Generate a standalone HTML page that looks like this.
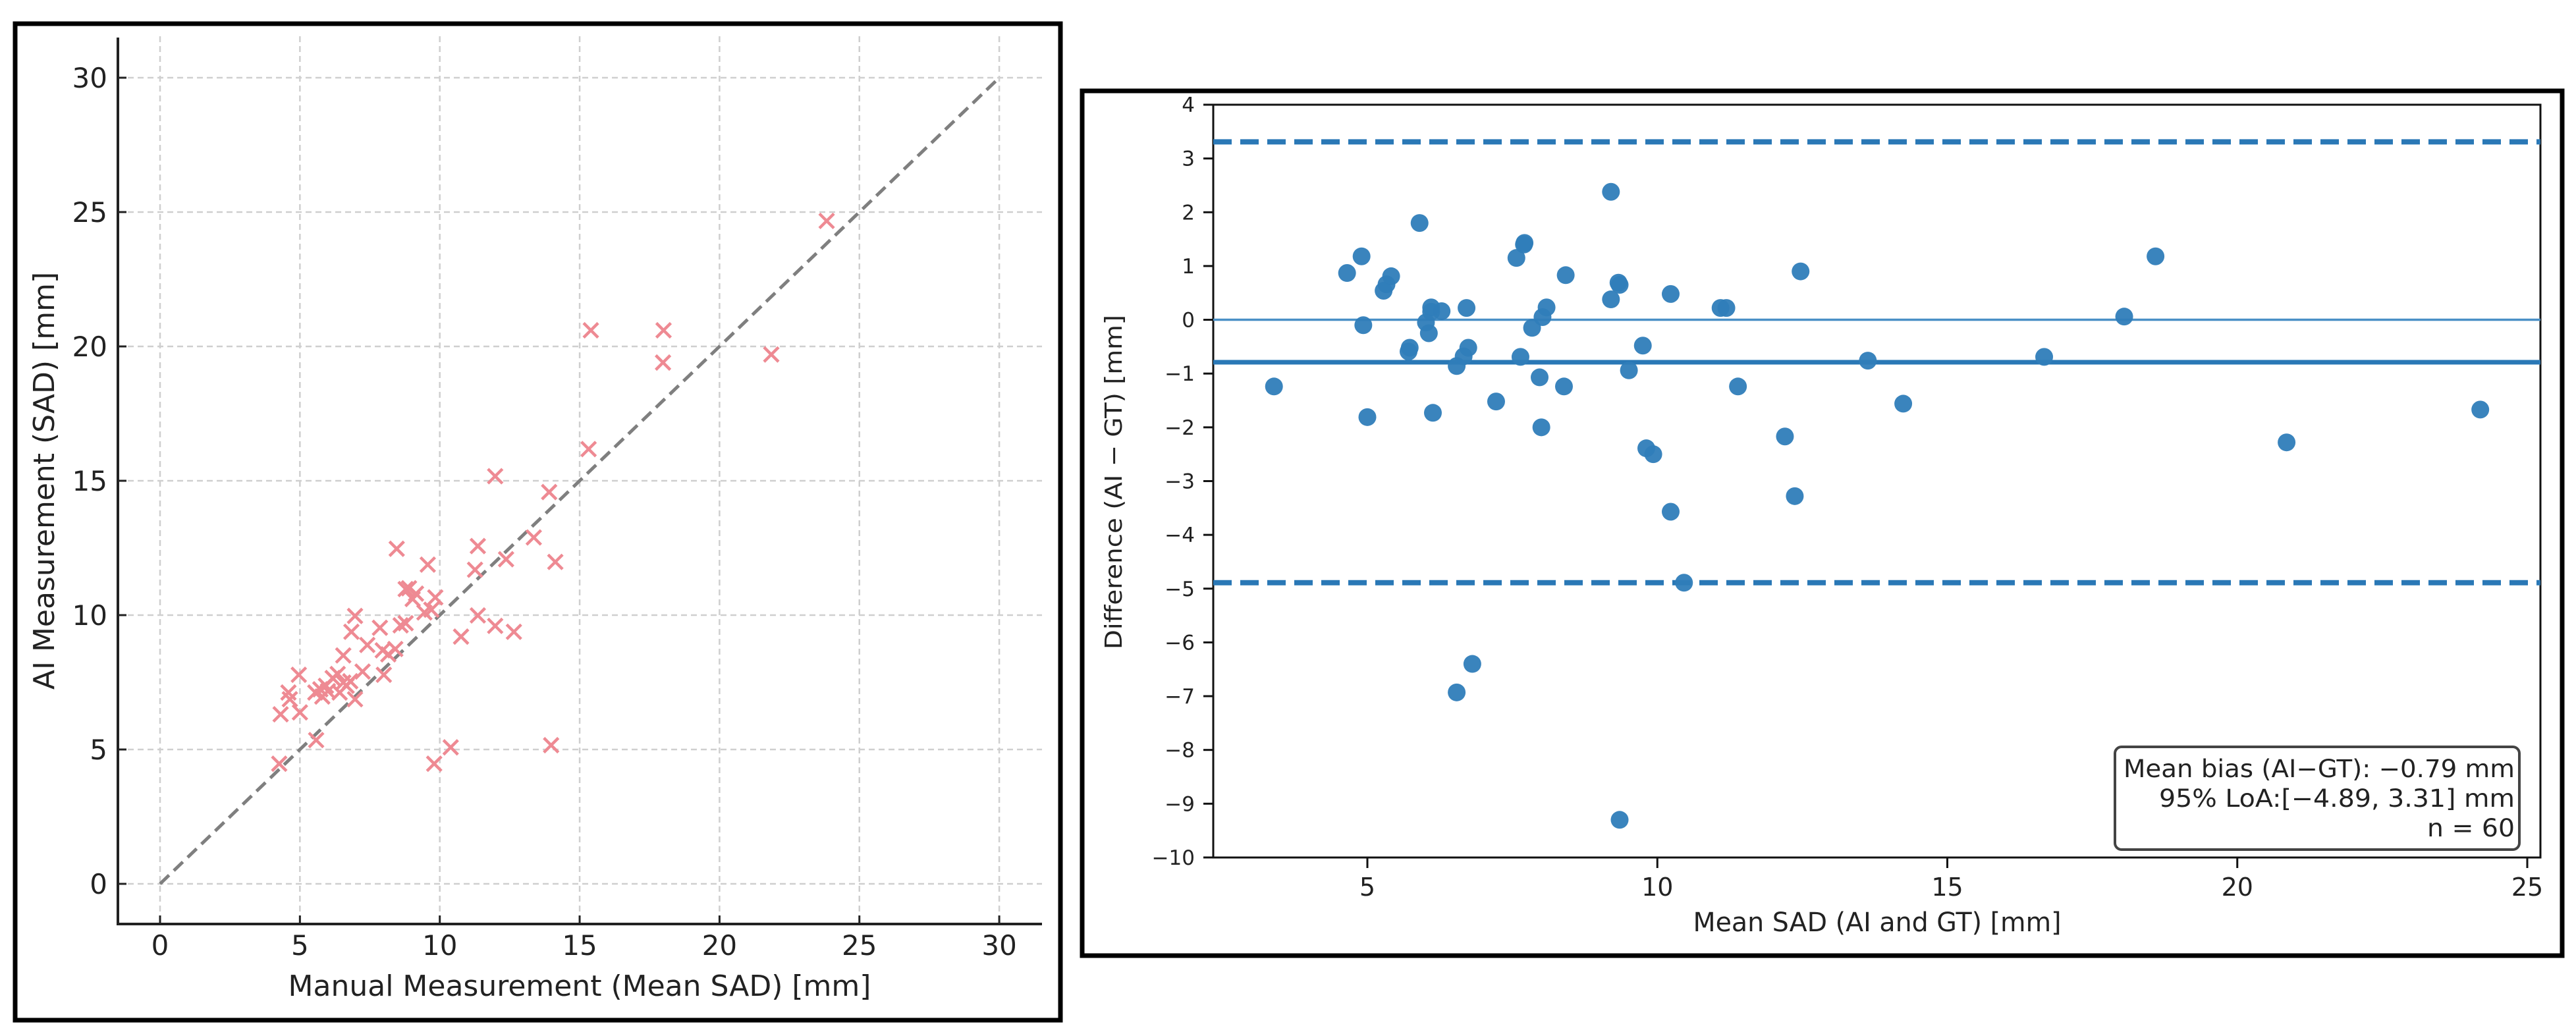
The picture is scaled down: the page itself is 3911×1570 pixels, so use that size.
<!DOCTYPE html>
<html><head><meta charset="utf-8"><style>
html,body{margin:0;padding:0;background:#fff;}
svg{display:block;font-family:"DejaVu Sans","Liberation Sans",sans-serif;}
</style></head><body>
<svg id="fig" width="3911" height="1570" viewBox="0 0 3911 1570" xmlns="http://www.w3.org/2000/svg">
<rect x="0" y="0" width="3911" height="1570" fill="#fff"/>
<rect x="23" y="36" width="1587" height="1513" fill="none" stroke="#000" stroke-width="7"/>
<rect x="1643" y="138" width="2247" height="1313" fill="none" stroke="#000" stroke-width="7"/>
<g id="left"></g>
<g id="right"></g>
</svg>
<script>
// ---- Left chart data ----
const manualVals = [23.83,15.4,18.0,17.98,21.85,15.32,11.98,13.91,8.46,11.36,9.57,12.37,11.26,13.36,14.13,8.78,8.9,9.15,9.03,9.84,9.7,9.45,6.97,11.36,8.6,8.78,11.98,12.65,10.76,7.86,6.84,7.41,6.55,7.96,8.41,8.16,4.96,7.24,8.0,6.17,6.35,6.55,6.8,5.93,5.73,6.0,6.42,5.8,4.59,4.64,6.97,4.31,5.0,5.58,4.26,9.8,10.39,13.98,6.67,5.55];
const aiVals = [24.67,20.6,20.6,19.4,19.7,16.18,15.17,14.58,12.47,12.57,11.88,12.08,11.69,12.89,11.98,10.97,11.0,10.8,10.6,10.66,10.2,10.1,9.97,9.99,9.62,9.7,9.6,9.38,9.2,9.53,9.38,8.89,8.5,8.69,8.74,8.54,7.78,7.9,7.78,7.66,7.81,7.49,7.54,7.37,7.24,7.17,7.12,6.97,7.12,6.87,6.87,6.31,6.38,5.35,4.47,4.47,5.08,5.16,7.37,7.12];
const leftTicks = [0,5,10,15,20,25,30];
// ---- Right chart data ----
const meanVals = [3.39,4.65,4.9,4.93,5.0,5.28,5.33,5.41,5.73,5.71,5.9,6.01,6.06,6.1,6.13,6.28,6.54,6.54,6.66,6.71,6.74,6.81,7.22,7.57,7.64,7.71,7.84,7.97,8.0,8.02,8.09,8.39,8.42,9.2,9.2,9.33,9.35,9.51,9.75,9.81,9.93,10.23,10.23,10.46,11.09,11.19,11.39,12.2,12.37,12.47,13.63,14.24,16.67,18.05,18.59,20.85,24.19,7.7,9.35,6.1];
const diffVals = [-1.24,0.87,1.18,-0.10,-1.81,0.54,0.66,0.81,-0.52,-0.59,1.80,-0.05,-0.25,0.23,-1.73,0.16,-0.86,-6.93,-0.68,0.22,-0.52,-6.40,-1.52,1.15,-0.69,1.43,-0.15,-1.07,-2.0,0.05,0.23,-1.24,0.83,2.38,0.38,0.69,-9.3,-0.94,-0.48,-2.39,-2.5,0.48,-3.57,-4.89,0.22,0.22,-1.24,-2.17,-3.28,0.90,-0.76,-1.56,-0.69,0.06,1.18,-2.28,-1.67,1.40,0.65,0.15];
const biasVal = -0.79;
const loaVals = [-4.89, 3.31];
const rightXTicks = [5,10,15,20,25];
const rightYTicks = [-10,-9,-8,-7,-6,-5,-4,-3,-2,-1,0,1,2,3,4];

const NS = "http://www.w3.org/2000/svg";
function mk(tag, attrs, parent) {
  const e = document.createElementNS(NS, tag);
  for (const k in attrs) e.setAttribute(k, attrs[k]);
  parent.appendChild(e);
  return e;
}
// ---- Left chart ----
const L = document.getElementById('left');
const lx = v => 243 + v * 42.47;
const ly = v => 1342 - v * 40.8;
leftTicks.forEach(t => {
  const g1 = mk('line', {x1: lx(t), x2: lx(t), y1: 55, y2: 1403, stroke: '#cfcfcf', 'stroke-width': 2.5, 'stroke-dasharray': '9 6'}, L);
  
  
  const g2 = mk('line', {x1: 179, x2: 1582, y1: ly(t), y2: ly(t), stroke: '#cfcfcf', 'stroke-width': 2.5, 'stroke-dasharray': '9 6'}, L);
  
  
  const tk1 = mk('line', {x1: lx(t), x2: lx(t), y1: 1403, y2: 1390, stroke: '#222', 'stroke-width': 3}, L);
  
  
  const tk2 = mk('line', {x1: 179, x2: 192, y1: ly(t), y2: ly(t), stroke: '#222', 'stroke-width': 3}, L);
  
  
  const xl = mk('text', {x: lx(t), y: 1450, 'font-size': 42, 'text-anchor': 'middle', fill: '#222'}, L);
  xl.textContent = t;
  
  
  const yl = mk('text', {x: 163, y: ly(t) + 15, 'font-size': 42, 'text-anchor': 'end', fill: '#222'}, L);
  yl.textContent = t;
  
  
});
const idl = mk('line', {x1: lx(0), y1: ly(0), x2: lx(30), y2: ly(30), stroke: '#7f7f7f', 'stroke-width': 5, 'stroke-dasharray': '19 10'}, L);


const sp1 = mk('path', {d: 'M179 57 V1403 H1582', fill: 'none', stroke: '#222', 'stroke-width': 4}, L);


manualVals.forEach((m, i) => {
  const cx = lx(m), cy = ly(aiVals[i]), s = 11;
  const p = mk('path', {d: `M${cx-s} ${cy-s} L${cx+s} ${cy+s} M${cx-s} ${cy+s} L${cx+s} ${cy-s}`, stroke: '#ee8a93', 'stroke-width': 4.5, fill: 'none'}, L);
  
  
});
const lxt = mk('text', {x: 880, y: 1512, 'font-size': 44, 'text-anchor': 'middle', fill: '#222'}, L);
lxt.textContent = 'Manual Measurement (Mean SAD) [mm]';


const lyt = mk('text', {x: 0, y: 0, 'font-size': 44, 'text-anchor': 'middle', fill: '#222', transform: 'translate(82,730) rotate(-90)'}, L);
lyt.textContent = 'AI Measurement (SAD) [mm]';



// ---- Right chart ----
const R = document.getElementById('right');
const rx = v => 2076 + (v - 5) * 88.05;
const ry = v => 159 + (4 - v) * 81.64;
const box = mk('rect', {x: 1842, y: 159, width: 2015, height: 1143, fill: 'none', stroke: '#111', 'stroke-width': 3}, R);


rightXTicks.forEach(t => {
  const tk = mk('line', {x1: rx(t), x2: rx(t), y1: 1302, y2: 1318, stroke: '#111', 'stroke-width': 3}, R);
  
  
  const tl = mk('text', {x: rx(t), y: 1360, 'font-size': 38, 'text-anchor': 'middle', fill: '#222'}, R);
  tl.textContent = t;
  
  
});
rightYTicks.forEach(t => {
  const tk = mk('line', {x1: 1827, x2: 1842, y1: ry(t), y2: ry(t), stroke: '#111', 'stroke-width': 3}, R);
  
  
  const tl = mk('text', {x: 1814, y: ry(t) + 11, 'font-size': 31, 'text-anchor': 'end', fill: '#222'}, R);
  tl.textContent = t < 0 ? '\u2212' + Math.abs(t) : t;
  
  
});
const zl = mk('line', {x1: 1842, x2: 3857, y1: ry(0), y2: ry(0), stroke: '#4a90c6', 'stroke-width': 3.5}, R);


const bl = mk('line', {x1: 1842, x2: 3857, y1: ry(biasVal), y2: ry(biasVal), stroke: '#2a78b6', 'stroke-width': 7}, R);


loaVals.forEach(v => {
  const l = mk('line', {x1: 1842, x2: 3857, y1: ry(v), y2: ry(v), stroke: '#2a78b6', 'stroke-width': 8, 'stroke-dasharray': '28 13'}, R);
  
  
});
meanVals.forEach((m, i) => {
  const c = mk('circle', {cx: rx(m), cy: ry(diffVals[i]), r: 13.5, fill: '#2f7db9', 'fill-opacity': 0.95}, R);
  
  
});
const lg = mk('rect', {x: 3211, y: 1134, width: 614, height: 156, rx: 10, fill: '#fff', stroke: '#444', 'stroke-width': 4}, R);


const lines = [['Mean bias (AI\u2212GT): \u22120.79 mm', 1180, 594], ['95% LoA:[\u22124.89, 3.31] mm', 1225, 540], ['n = 60', 1270, 133]];
lines.forEach(([s, y, w]) => {
  const t = mk('text', {x: 3818, y: y, 'font-size': 37, 'text-anchor': 'end', fill: '#222', textLength: w, lengthAdjust: 'spacingAndGlyphs'}, R);
  t.textContent = s;
  
  
});
const rxt = mk('text', {x: 2850, y: 1414, 'font-size': 40, 'text-anchor': 'middle', fill: '#222', textLength: 559, lengthAdjust: 'spacingAndGlyphs'}, R);
rxt.textContent = 'Mean SAD (AI and GT) [mm]';


const ryt = mk('text', {x: 0, y: 0, 'font-size': 36, 'text-anchor': 'middle', fill: '#222', textLength: 508, lengthAdjust: 'spacingAndGlyphs', transform: 'translate(1703,732) rotate(-90)'}, R);
ryt.textContent = 'Difference (AI \u2212 GT) [mm]';


</script>
</body></html>
